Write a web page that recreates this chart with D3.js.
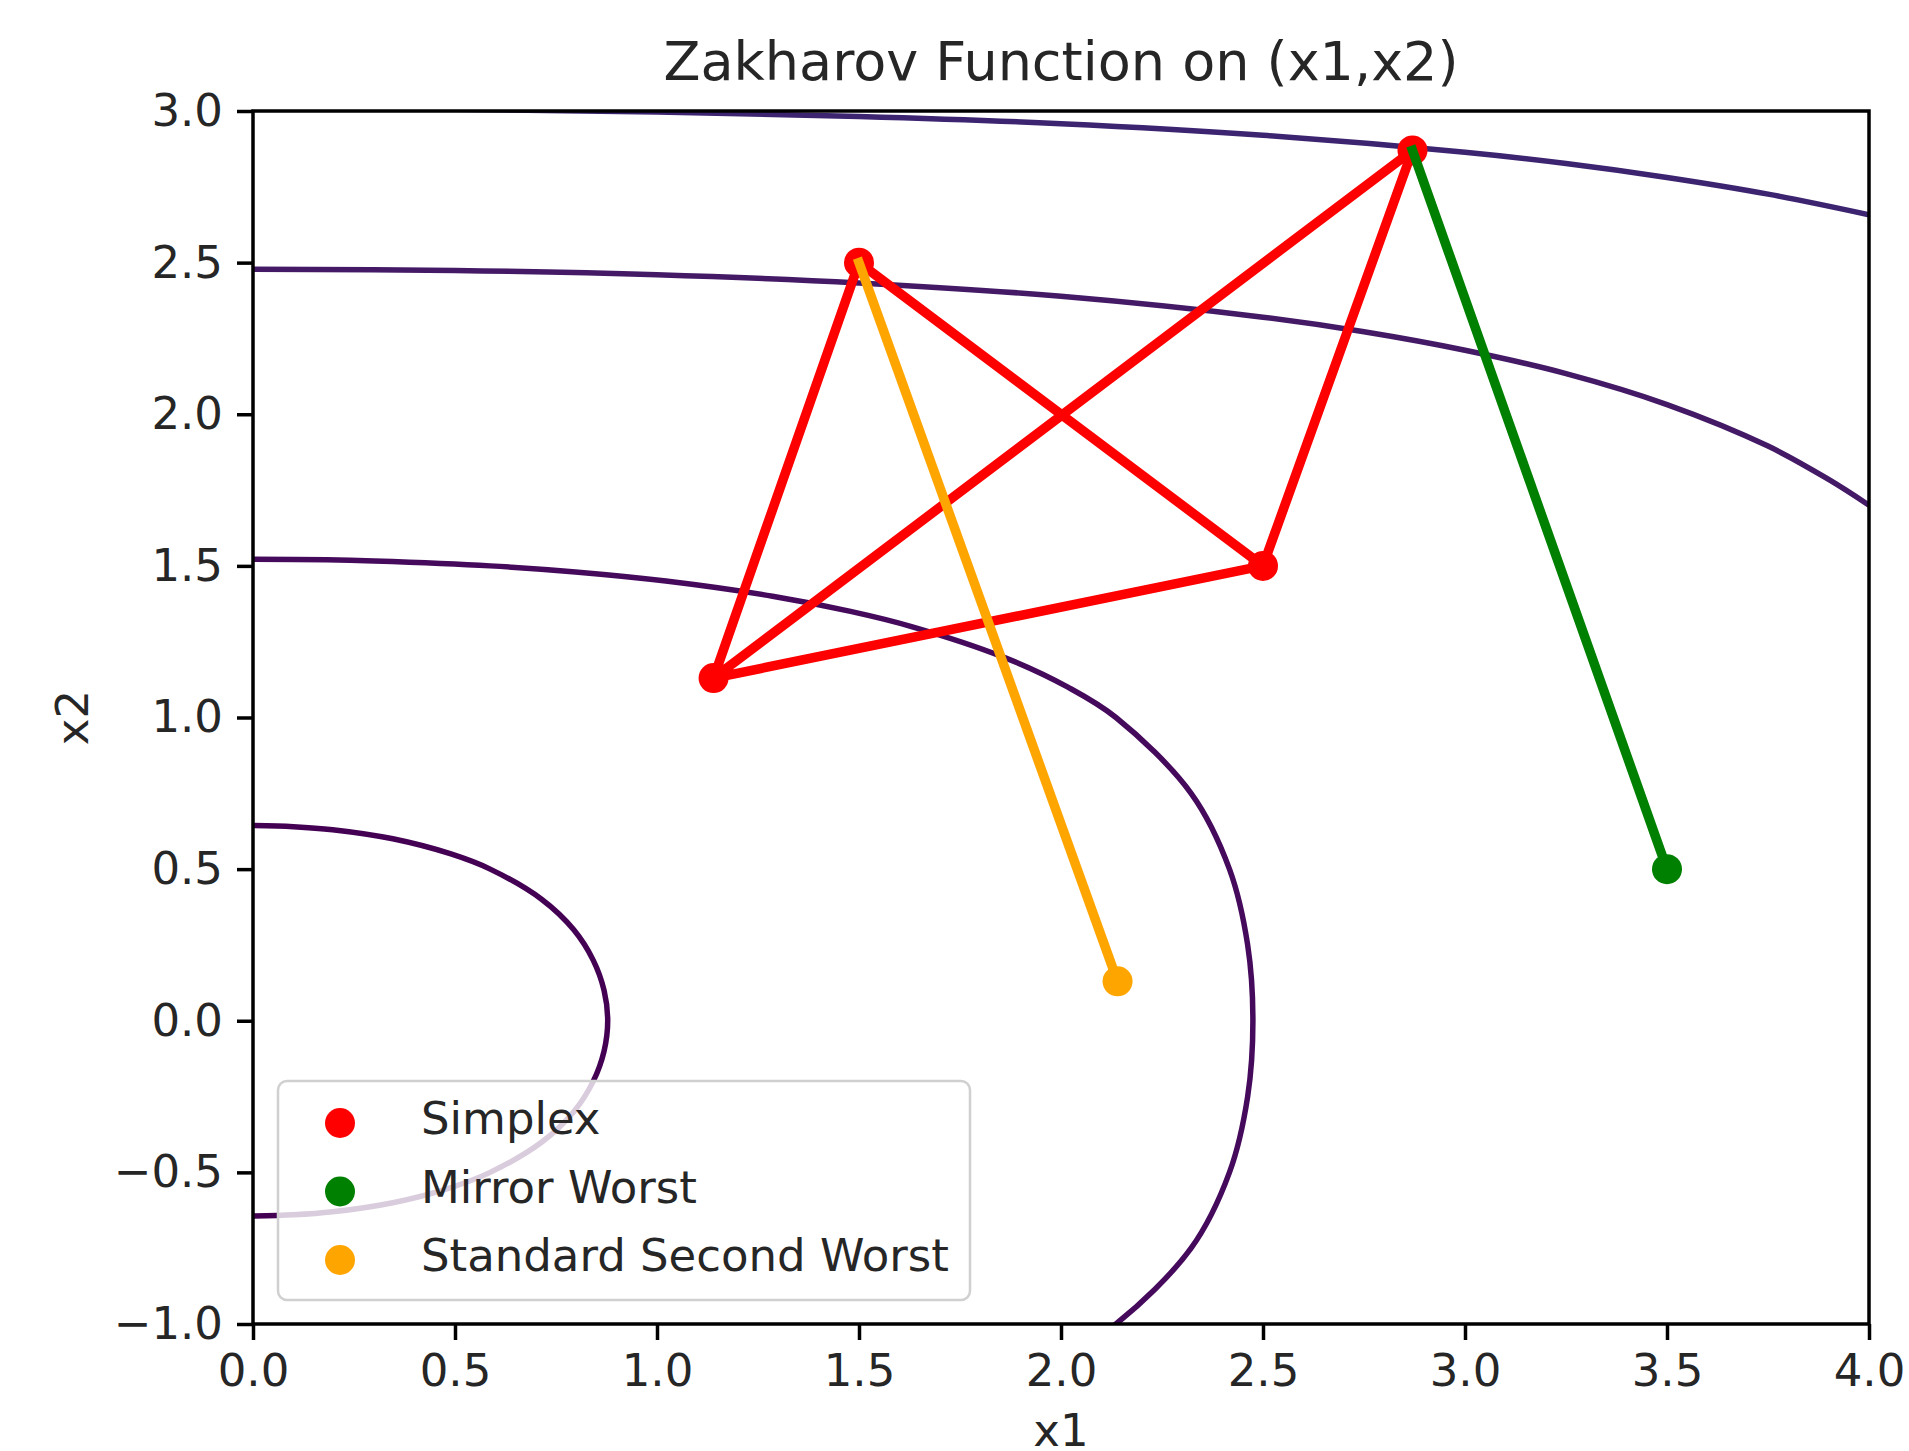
<!DOCTYPE html>
<html>
<head>
<meta charset="utf-8">
<script src="https://cdn.jsdelivr.net/npm/d3@7"></script>
<style>
  body { margin: 0; background: #fff; }
  svg { display: block; font-family: "DejaVu Sans", sans-serif; }
</style>
</head>
<body>
<div id="root"></div>
<script>
// simplex vertices (x1, x2) and the order the edges were drawn in
const simplexX1 = [1.14, 1.5, 2.5, 2.87];
const simplexX2 = [1.13, 2.5, 1.5, 2.87];
const simplexPath = [0, 1, 2, 3, 0, 2];

// mirror of the worst vertex, drawn from the top vertex
const mirrorFrom = [2.87, 2.87];
const mirrorTo = [3.5, 0.5];

// standard second worst, drawn from (1.5, 2.5)
const secondFrom = [1.5, 2.5];
const secondTo = [2.14, 0.13];

// contour lines, one list per level
const contourLevels = [1, 10, 50, 100];
const contourColors = ["#440154", "#450a5c", "#441a66", "#3c2470"];
const contour1 = [[0,-0.644],[0.1,-0.640],[0.197,-0.63],[0.346,-0.6],[0.49,-0.55],[0.587,-0.5],[0.715,-0.4],[0.794,-0.3],[0.842,-0.2],[0.869,-0.1],[0.878,0],[0.869,0.1],[0.842,0.2],[0.794,0.3],[0.715,0.4],[0.587,0.5],[0.49,0.55],[0.346,0.6],[0.197,0.63],[0.1,0.640],[0,0.644]];
const contour10 = [[2.017,-1.1],[2.136,-1.0],[2.322,-0.75],[2.417,-0.5],[2.462,-0.25],[2.475,0],[2.462,0.25],[2.417,0.5],[2.322,0.75],[2.136,1.0],[2.017,1.1],[1.856,1.2],[1.630,1.3],[1.479,1.35],[1.286,1.4],[1.022,1.45],[0.798,1.48],[0.587,1.5],[0.3,1.516],[0.182,1.52],[0,1.522]];
const contour50 = [[0,2.478],[0.5,2.474],[1,2.460],[1.5,2.433],[2,2.389],[2.5,2.320],[2.75,2.272],[3,2.211],[3.25,2.134],[3.5,2.032],[3.75,1.895],[3.9,1.785],[4,1.70]];
const contour100 = [[0,3.008],[0.5,3.006],[1,2.997],[1.5,2.982],[2,2.958],[2.5,2.920],[3,2.864],[3.25,2.827],[3.5,2.781],[3.75,2.726],[4,2.658]];
const contours = [contour1, contour10, contour50, contour100];

const xTicks = [0, 0.5, 1, 1.5, 2, 2.5, 3, 3.5, 4];
const yTicks = [-1, -0.5, 0, 0.5, 1, 1.5, 2, 2.5, 3];

const legendLabels = ["Simplex", "Mirror Worst", "Standard Second Worst"];
const legendColors = ["red", "green", "orange"];

const width = 1909, height = 1451;
const plotLeft = 253, plotRight = 1869, plotTop = 111, plotBottom = 1324;
const fs = 45;

const svg = d3.select("#root").append("svg")
    .attr("width", width)
    .attr("height", height);

const x = d3.scaleLinear().domain([0, 4]).range([plotLeft, plotRight]);
const y = d3.scaleLinear().domain([-1, 3]).range([plotBottom, plotTop]);

svg.append("defs").append("clipPath").attr("id", "plotclip")
    .append("rect")
    .attr("x", plotLeft).attr("y", plotTop)
    .attr("width", plotRight - plotLeft).attr("height", plotBottom - plotTop);

const plot = svg.append("g").attr("clip-path", "url(#plotclip)");

const line = d3.line()
    .x(d => x(d[0]))
    .y(d => y(d[1]))
    .curve(d3.curveCatmullRom);

// contours
plot.selectAll("path.contour")
    .data(contours)
    .enter().append("path")
    .attr("class", "contour")
    .attr("d", line)
    .attr("fill", "none")
    .attr("stroke", (d, i) => contourColors[i])
    .attr("stroke-width", 5.5);

// scatter points sit below the lines
const r = 15;
plot.selectAll("circle.simplex")
    .data(simplexX1.map((v, i) => [v, simplexX2[i]]))
    .enter().append("circle")
    .attr("class", "simplex")
    .attr("cx", d => x(d[0]))
    .attr("cy", d => y(d[1]))
    .attr("r", r)
    .attr("fill", "red");

plot.append("circle")
    .attr("cx", x(mirrorTo[0])).attr("cy", y(mirrorTo[1]))
    .attr("r", r).attr("fill", "green");

plot.append("circle")
    .attr("cx", x(secondTo[0])).attr("cy", y(secondTo[1]))
    .attr("r", r).attr("fill", "orange");

const straight = d3.line().x(d => x(d[0])).y(d => y(d[1]));
const lw = 9.5;

plot.append("path")
    .attr("d", straight(simplexPath.map(i => [simplexX1[i], simplexX2[i]])))
    .attr("fill", "none")
    .attr("stroke", "red")
    .attr("stroke-width", lw)
    .attr("stroke-linejoin", "round")
    .attr("stroke-linecap", "square");

plot.append("path")
    .attr("d", straight([mirrorFrom, mirrorTo]))
    .attr("fill", "none")
    .attr("stroke", "green")
    .attr("stroke-width", lw)
    .attr("stroke-linecap", "square");

plot.append("path")
    .attr("d", straight([secondFrom, secondTo]))
    .attr("fill", "none")
    .attr("stroke", "orange")
    .attr("stroke-width", lw)
    .attr("stroke-linecap", "square");

// axes
const fmt = d3.format(".1f");
const xAxis = svg.append("g")
    .attr("transform", "translate(0," + plotBottom + ")")
    .call(d3.axisBottom(x).tickValues(xTicks).tickFormat(fmt).tickSize(16).tickPadding(14));
const yAxis = svg.append("g")
    .attr("transform", "translate(" + plotLeft + ",0)")
    .call(d3.axisLeft(y).tickValues(yTicks).tickFormat(fmt).tickSize(16).tickPadding(14));

[xAxis, yAxis].forEach(a => {
    a.select(".domain").remove();
    a.selectAll(".tick line").attr("stroke", "#000").attr("stroke-width", 3.5);
    a.selectAll(".tick text")
        .attr("fill", "#262626")
        .style("font-size", fs + "px")
        .style("font-family", "DejaVu Sans");
});

svg.append("rect")
    .attr("x", plotLeft).attr("y", plotTop)
    .attr("width", plotRight - plotLeft).attr("height", plotBottom - plotTop)
    .attr("fill", "none")
    .attr("stroke", "#000")
    .attr("stroke-width", 3.5);

// title and axis labels
svg.append("text")
    .attr("x", (plotLeft + plotRight) / 2).attr("y", 80)
    .attr("text-anchor", "middle")
    .attr("fill", "#262626")
    .style("font-size", "54px")
    .text("Zakharov Function on (x1,x2)");

svg.append("text")
    .attr("x", (plotLeft + plotRight) / 2).attr("y", 1446)
    .attr("text-anchor", "middle")
    .attr("fill", "#262626")
    .style("font-size", fs + "px")
    .text("x1");

svg.append("text")
    .attr("transform", "translate(88," + (plotTop + plotBottom) / 2 + ") rotate(-90)")
    .attr("text-anchor", "middle")
    .attr("fill", "#262626")
    .style("font-size", fs + "px")
    .text("x2");

// legend
const legend = svg.append("g");
legend.append("rect")
    .attr("x", 278).attr("y", 1081)
    .attr("width", 692).attr("height", 219)
    .attr("rx", 9)
    .attr("fill", "#fff").attr("fill-opacity", 0.8)
    .attr("stroke", "#d0d0d0").attr("stroke-width", 2.5);

const rows = legend.selectAll("g.row")
    .data(legendLabels)
    .enter().append("g")
    .attr("class", "row")
    .attr("transform", (d, i) => "translate(0," + (1118 + i * 68.5) + ")");

rows.append("circle")
    .attr("cx", 340).attr("cy", 5)
    .attr("r", r)
    .attr("fill", (d, i) => legendColors[i]);

rows.append("text")
    .attr("x", 421).attr("y", 16)
    .attr("fill", "#262626")
    .style("font-size", fs + "px")
    .text(d => d);
</script>
</body>
</html>
